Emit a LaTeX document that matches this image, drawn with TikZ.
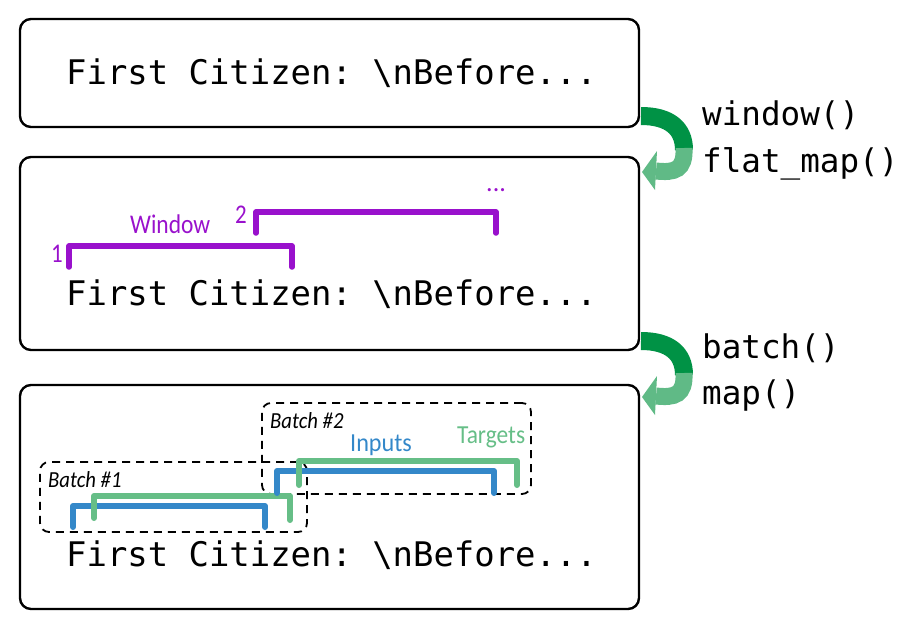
\documentclass[tikz,border=0pt]{standalone}
\usepackage{fontspec}
\setmainfont{Carlito}
\setmonofont{DejaVu Sans Mono}
\definecolor{purp}{RGB}{153,17,204}
\definecolor{bblue}{RGB}{52,136,201}
\definecolor{bgreen}{RGB}{102,190,135}
\definecolor{gdark}{RGB}{0,146,69}
\definecolor{glight}{RGB}{96,186,134}
\tikzset{greenarrow/.pic={
  \draw[line width=18pt, draw=gdark] (0,0) .. controls (28,0) and (43,12) .. (43,34);
  \draw[line width=17pt, draw=glight] (43,32) .. controls (44,54) and (34,57) .. (15,55);
  \fill[glight] (16,35) -- (1,56) -- (14,74) -- cycle;
}}
\begin{document}
\begin{tikzpicture}[x=1pt,y=-1pt,
  box/.style={draw=black, line width=2.4pt, rounded corners=11pt, inner sep=0pt, outer sep=0pt},
  mono/.style={font=\ttfamily\fontsize{33.9}{40}\selectfont, inner sep=0pt, anchor=base west},
  fn/.style={font=\ttfamily\fontsize{32.6}{40}\selectfont, inner sep=0pt, anchor=base west},
  lab/.style={inner sep=0pt, anchor=base west},
  brk/.style={line width=5.5pt, line cap=round, line join=round},
  batchbox/.style={draw, dash pattern=on 8pt off 6pt, line width=1.8pt, rounded corners=9pt, inner sep=0pt, outer sep=0pt}
]
\useasboundingbox (0,0) rectangle (922,622);
% boxes
\node[box, minimum width=619pt, minimum height=108pt] (b1) at (329.5,73) {};
\node[box, minimum width=619pt, minimum height=193pt] (b2) at (329.5,253.5) {};
\node[box, minimum width=619pt, minimum height=224pt] (b3) at (329.5,497) {};
% texts
\node[mono] (t1) at (66,84) {First Citizen: \textbackslash nBefore...};
\node[mono] (t2) at (66,305) {First Citizen: \textbackslash nBefore...};
\node[mono] (t3) at (66,566) {First Citizen: \textbackslash nBefore...};
% functions
\node[fn] (f1) at (702,125) {window()};
\node[fn] (f2) at (702,172) {flat\_map()};
\node[fn] (f3) at (702,358) {batch()};
\node[fn] (f4) at (702,404) {map()};
% green arrows
\pic at (641,116) {greenarrow};
\pic at (641,341) {greenarrow};
% window brackets
\draw[brk, purp] (69,267) |- (292,246) -- (292,267);
\draw[brk, purp] (256,233) |- (496,212) -- (496,233);
\node[lab, text=purp, font=\fontsize{27}{30}\selectfont] (n1) at (51,262) {\scalebox{0.85}[1]{1}};
\node[lab, text=purp, font=\fontsize{27}{30}\selectfont] (n2) at (235,223) {\scalebox{0.85}[1]{2}};
\node[lab, text=purp, font=\fontsize{27}{30}\selectfont] (win) at (130,233) {\scalebox{0.87}[1]{Window}};
\node[lab, text=purp, font=\fontsize{26}{30}\selectfont] (dots) at (486,191) {...};
% batches
\node[batchbox, minimum width=267pt, minimum height=70pt] (bt1) at (173.5,497) {};
\node[batchbox, minimum width=269pt, minimum height=91pt] (bt2) at (396.5,448.5) {};
\node[lab, font=\itshape\fontsize{23}{26}\selectfont] (l1) at (48,487) {\scalebox{0.9}[1]{Batch \#1}};
\node[lab, font=\itshape\fontsize{23}{26}\selectfont] (l2) at (270,428) {\scalebox{0.9}[1]{Batch \#2}};
\node[lab, text=bblue, font=\fontsize{26}{30}\selectfont] (inp) at (350,451) {\scalebox{0.93}[1]{Inputs}};
\node[lab, text=bgreen, font=\fontsize{26}{30}\selectfont] (tgt) at (457,443) {\scalebox{0.9}[1]{Targets}};
\draw[brk, bblue, line width=6pt] (73,527) |- (265,506) -- (265,527);
\draw[brk, bgreen, line width=6pt] (94,518) |- (290,496) -- (290,520);
\draw[brk, bblue, line width=6pt] (277,493) |- (494,471) -- (494,493);
\draw[brk, bgreen, line width=6pt] (299,485) |- (517,461) -- (517,485);
\end{tikzpicture}
\end{document}
